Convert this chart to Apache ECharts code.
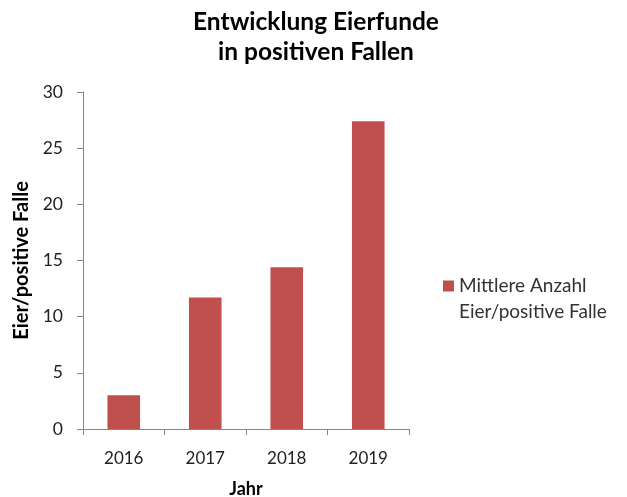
<!DOCTYPE html>
<html><head><meta charset="utf-8">
<script src="https://cdn.jsdelivr.net/npm/echarts@6/dist/echarts.min.js"></script>
<style>html,body{margin:0;padding:0;background:#fff}#c{width:627px;height:497px}</style>
</head><body><div id="c"></div>
<script>
var categories = ['2016', '2017', '2018', '2019'];
var values = [3.0, 11.7, 14.4, 27.4];
var seriesName = 'Mittlere Anzahl\nEier/positive Falle';
var titleText = 'Entwicklung Eierfunde\nin positiven Fallen';
var FONT = 'Lato, "Open Sans", sans-serif';

var chart = echarts.init(document.getElementById('c'), null, {renderer: 'canvas'});
chart.setOption({
  animation: false,
  backgroundColor: '#fff',
  title: {
    text: titleText,
    left: 311, top: 2, textAlign: 'center',
    textStyle: {fontFamily: FONT, fontSize: 24.5, fontWeight: 'bold', color: '#000', lineHeight: 30}
  },
  legend: {
    left: 438, top: 268, orient: 'vertical',
    icon: 'path://M0,0L11,0L11,11L0,11Z M0,37L0.01,37L0.01,37.01Z',
    itemWidth: 11, itemHeight: 37, itemGap: 4,
    textStyle: {fontFamily: FONT, fontSize: 19, color: '#333', lineHeight: 26},
    data: [seriesName]
  },
  grid: {left: 83, right: 218, top: 92, bottom: 68, outerBoundsMode: 'none', containLabel: false},
  xAxis: {
    type: 'category', data: categories,
    name: 'Jahr', nameLocation: 'middle', nameGap: 51,
    nameTextStyle: {fontFamily: FONT, fontSize: 18, fontWeight: 'bold', color: '#000'},
    axisLine: {lineStyle: {color: '#868686', width: 1}},
    axisTick: {show: true, length: 6, lineStyle: {color: '#868686'}, alignWithLabel: false},
    axisLabel: {fontFamily: FONT, fontSize: 17, color: '#222', margin: 21}
  },
  yAxis: {
    type: 'value', min: 0, max: 30, interval: 5,
    name: 'Eier/positive Falle', nameLocation: 'middle', nameGap: 49, nameRotate: 90,
    nameTextStyle: {fontFamily: FONT, fontSize: 20, fontWeight: 'bold', color: '#000'},
    axisLine: {show: true, lineStyle: {color: '#868686', width: 1}},
    axisTick: {show: true, length: 6, lineStyle: {color: '#868686'}},
    splitLine: {show: false},
    axisLabel: {fontFamily: FONT, fontSize: 17.5, color: '#222', margin: 20}
  },
  series: [{
    name: seriesName, type: 'bar', data: values,
    barWidth: '40%',
    itemStyle: {color: '#C0504D'}
  }]
});
</script></body></html>
